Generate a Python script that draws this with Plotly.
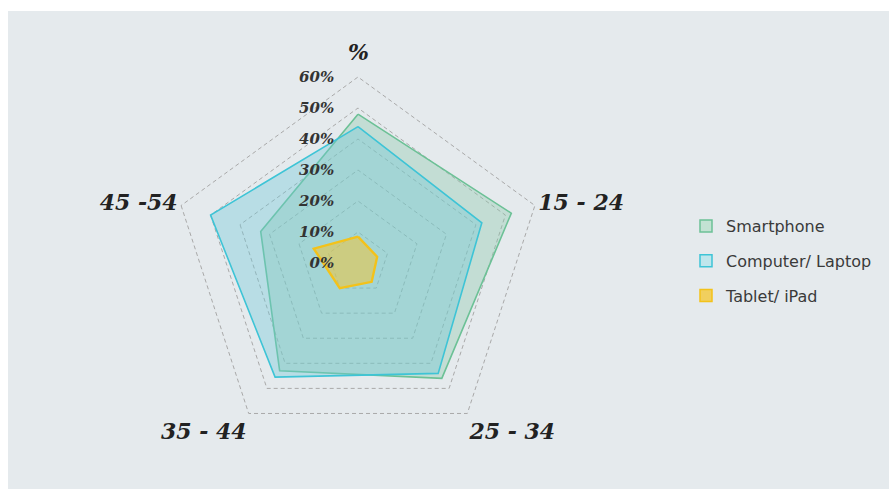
import plotly.graph_objects as go

# Age bands around the radar (the top spoke carries the "%" heading)
categories = ["%", "15 - 24", "25 - 34", "35 - 44", "45 -54"]

# Share of users per device, in percent
smartphone = [48, 52, 46, 43, 33]
computer = [44, 42, 44, 45.5, 50]
tablet = [8.5, 6.5, 7.5, 10, 15]

radial_ticks = [0, 10, 20, 30, 40, 50, 60]
radial_labels = ["0%", "10%", "20%", "30%", "40%", "50%", "60%"]

# name, values, outline colour, area fill, legend swatch fill
series = [
    ("Smartphone", smartphone, "#6cc196", "rgba(140,200,170,0.38)", "#c3e2d3"),
    ("Computer/ Laptop", computer, "#3ec4d6", "rgba(110,200,215,0.38)", "#bfe6ec"),
    ("Tablet/ iPad", tablet, "#f3c21a", "rgba(238,196,60,0.55)", "#f1cf5e"),
]

R_MAX = 61  # a little headroom so the 60% ring is drawn as a dashed grid line
PX_PER_UNIT = 186 / 60
half = PX_PER_UNIT * R_MAX
cx, cy = 358, 263
W, H = 889, 489

fig = go.Figure()
for i, (name, vals, line_col, fill_col, _) in enumerate(series):
    fig.add_trace(go.Scatterpolar(
        r=vals + vals[:1],
        theta=categories + categories[:1],
        name=name,
        mode="lines",
        fill="toself",
        fillcolor=fill_col,
        line=dict(color=line_col, width=2.4 if i == 2 else 1.6),
        showlegend=False,
        hoverinfo="name+r+theta",
    ))

# small square swatches for the legend
for i, (name, _, line_col, _, swatch) in enumerate(series):
    fig.add_trace(go.Scatterpolar(
        r=[None], theta=[categories[0]],
        name=name,
        mode="markers",
        marker=dict(symbol="square", size=12, color=swatch,
                    line=dict(color=line_col, width=1.5)),
        legendgroup=f"g{i}",
        showlegend=True,
    ))

label_font = dict(family="DejaVu Serif", size=22, color="#222222",
                  weight="bold", style="italic")
tick_font = dict(family="DejaVu Serif", size=15, color="#333333",
                 weight="bold", style="italic")

# the heading of the top spoke is set a little further out than the age labels
top_r_px = PX_PER_UNIT * radial_ticks[-1] + 25
heading = dict(text=categories[0], xref="paper", yref="paper",
               x=cx / W, y=(H - (cy - top_r_px)) / H,
               xanchor="center", yanchor="middle", showarrow=False,
               font=label_font)

fig.update_layout(
    width=W, height=H,
    margin=dict(l=0, r=0, t=0, b=0),
    paper_bgcolor="#ffffff",
    plot_bgcolor="rgba(0,0,0,0)",
    shapes=[dict(type="rect", xref="paper", yref="paper",
                 x0=8 / W, x1=1, y0=0, y1=1 - 11 / H,
                 fillcolor="#e5eaed", line=dict(width=0), layer="below")],
    annotations=[heading],
    polar=dict(
        domain=dict(x=[(cx - half) / W, (cx + half) / W],
                    y=[(H - cy - half) / H, (H - cy + half) / H]),
        bgcolor="rgba(0,0,0,0)",
        gridshape="linear",
        radialaxis=dict(
            range=[0, R_MAX],
            angle=90,
            tickangle=90,
            side="counterclockwise",
            tickvals=radial_ticks,
            ticktext=radial_labels,
            tickfont=tick_font,
            showline=False,
            ticks="outside",
            ticklen=18,
            tickcolor="rgba(0,0,0,0)",
            gridcolor="#a9a9a9",
            griddash="4px,3px",
            gridwidth=1,
        ),
        angularaxis=dict(
            rotation=90,
            direction="clockwise",
            showgrid=False,
            showline=False,
            ticks="",
            tickmode="array",
            tickvals=categories,
            ticktext=[""] + categories[1:],
            tickfont=label_font,
        ),
    ),
    legend=dict(
        x=686 / W, y=1 - 209 / H, xanchor="left", yanchor="top",
        font=dict(family="DejaVu Sans", size=16, color="#3a3a3a"),
        bgcolor="rgba(0,0,0,0)",
        tracegroupgap=11,
        itemwidth=30,
    ),
    showlegend=True,
)

fig.write_html("out.html")
